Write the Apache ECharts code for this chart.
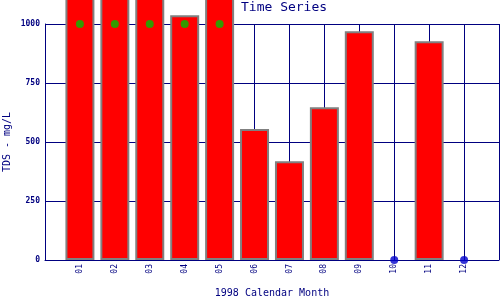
<!DOCTYPE html>
<html>
<head>
<meta charset="utf-8">
<script src="https://cdn.jsdelivr.net/npm/echarts@6/dist/echarts.min.js"></script>
<style>html,body{margin:0;padding:0;background:#fff}#c{width:500px;height:300px}</style>
</head>
<body>
<div id="c"></div>
<script>
var months = ['01','02','03','04','05','06','07','08','09','10','11','12'];
var tdsValues = [1200, 1200, 1200, 1037, 1200, 555, 418, 647, 969, null, 927, null];
var capMarkers = [1000, 1000, 1000, 1000, 1000, null, null, null, null, null, null, null];
var missingMarkers = [null, null, null, null, null, null, null, null, null, 0, null, 0];
var yTicks = [0, 250, 500, 750, 1000];

var navy = '#000080';
var mono = 'DejaVu Sans Mono';
function toPairs(arr){
  var out = [];
  arr.forEach(function(v,i){ if(v!==null) out.push([i+1, v]); });
  return out;
}
var chart = echarts.init(document.getElementById('c'), null, {renderer:'canvas'});
chart.setOption({
  animation: false,
  backgroundColor: '#fff',
  title: {
    text: 'Time Series', left: 241, top: 1, padding: 0,
    textStyle: {color: navy, fontFamily: mono, fontSize: 13, fontWeight: 'normal'}
  },
  grid: {left: 45, right: 1, top: 24, bottom: 40, containLabel: false, outerBoundsMode: 'none'},
  xAxis: {
    type: 'value', min: 0, max: months.length + 1, interval: 1,
    name: '1998 Calendar Month', nameLocation: 'middle', nameGap: 28, nameMoveOverlap: false,
    nameTextStyle: {color: navy, fontFamily: mono, fontSize: 10},
    axisLine: {show: true, lineStyle: {color: navy, width: 1}},
    axisTick: {show: false},
    splitLine: {show: true, lineStyle: {color: navy, width: 1}},
    axisLabel: {
      rotate: 90, margin: 4, color: navy, fontFamily: mono, fontSize: 8,
      hideOverlap: false,
      formatter: function(v){ return (v >= 1 && v <= months.length) ? months[v-1] : ''; }
    }
  },
  yAxis: {
    type: 'value', min: yTicks[0], max: yTicks[yTicks.length-1], interval: 250,
    name: 'TDS - mg/L', nameLocation: 'middle', nameGap: 33, nameMoveOverlap: false,
    nameTextStyle: {color: navy, fontFamily: mono, fontSize: 10},
    axisLine: {show: true, lineStyle: {color: navy, width: 1}},
    axisTick: {show: false},
    splitLine: {show: true, lineStyle: {color: navy, width: 1}},
    axisLabel: {margin: 5, color: navy, fontFamily: mono, fontSize: 8, fontWeight: 'bold',
      formatter: function(v){ return String(v); }}
  },
  series: [
    {
      type: 'bar', data: toPairs(tdsValues), barWidth: 29, clip: false,
      itemStyle: {color: '#ff0000', borderColor: '#808080', borderWidth: 2}
    },
    {
      type: 'scatter', data: toPairs(capMarkers), symbol: 'circle', symbolSize: 8, clip: false, z: 5,
      itemStyle: {color: '#00c000'}
    },
    {
      type: 'scatter', data: toPairs(missingMarkers), symbol: 'circle', symbolSize: 8, clip: false, z: 5,
      itemStyle: {color: '#0000cc'}
    }
  ]
});
</script>
</body>
</html>
